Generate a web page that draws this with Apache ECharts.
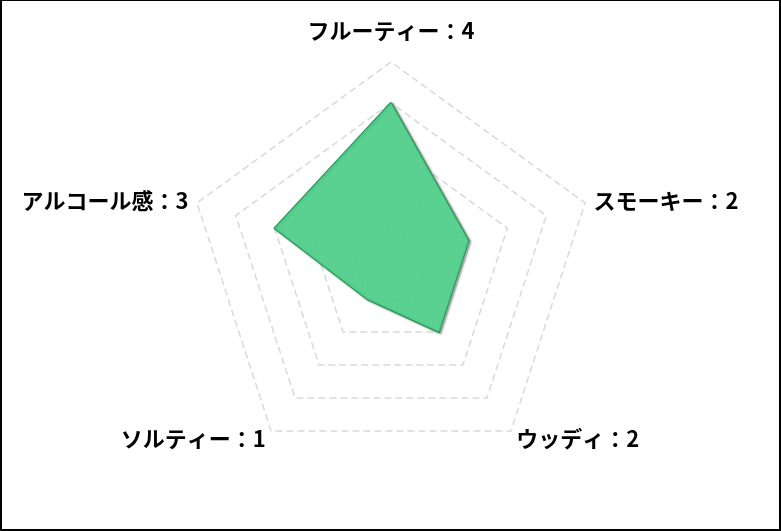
<!DOCTYPE html>
<html><head><meta charset="utf-8">
<script src="https://cdn.jsdelivr.net/npm/echarts@6/dist/echarts.min.js"></script>
<style>
html,body{margin:0;padding:0;background:#fff;}
#frame{position:absolute;left:0;top:0;width:781px;height:531px;box-sizing:border-box;border:2px solid #000;border-top-width:1px;}
#c{position:absolute;left:0;top:0;width:781px;height:531px;}
</style></head>
<body>
<div id="c"></div>
<div id="frame"></div>
<script>
// Listed counter-clockwise from the top (ECharts radar order)
const categories = ['フルーティー', 'アルコール感', 'ソルティー', 'ウッディ', 'スモーキー'];
const values = [4, 3, 1, 2, 2];
const maxValue = 5;

const chart = echarts.init(document.getElementById('c'));
chart.setOption({
  animation: false,
  radar: {
    center: [391, 266],
    radius: 204,
    startAngle: 90,
    splitNumber: 5,
    shape: 'polygon',
    indicator: categories.map(n => ({ name: n, max: maxValue, min: 0 })),
    nameGap: 9,
    axisName: {
      color: '#000',
      fontSize: 22,
      fontWeight: 'bold',
      fontFamily: '"Noto Sans CJK JP", sans-serif',
      formatter: function (name) {
        const i = categories.indexOf(name);
        const t = name + '：' + values[i];
        return i === 0 ? '{top|' + t + '}' : t;
      },
      rich: {
        top: { color: '#000', fontSize: 22, fontWeight: 'bold', fontFamily: '"Noto Sans CJK JP", sans-serif', padding: [0, 0, 11, 0] }
      }
    },
    axisLine: { show: false },
    axisTick: { show: false },
    axisLabel: { show: false },
    splitArea: { show: false },
    splitLine: { lineStyle: { color: '#d9d9d9', width: 1.5, type: [7, 4] } }
  },
  series: [{
    type: 'radar',
    symbol: 'none',
    data: [{ value: values }],
    lineStyle: { color: '#2a8f55', width: 2, shadowColor: 'rgba(0,40,20,0.55)', shadowBlur: 2, shadowOffsetX: 1.5, shadowOffsetY: 1 },
    areaStyle: { color: '#4ccd88', opacity: 0.92 }
  }]
});
</script>
</body></html>
